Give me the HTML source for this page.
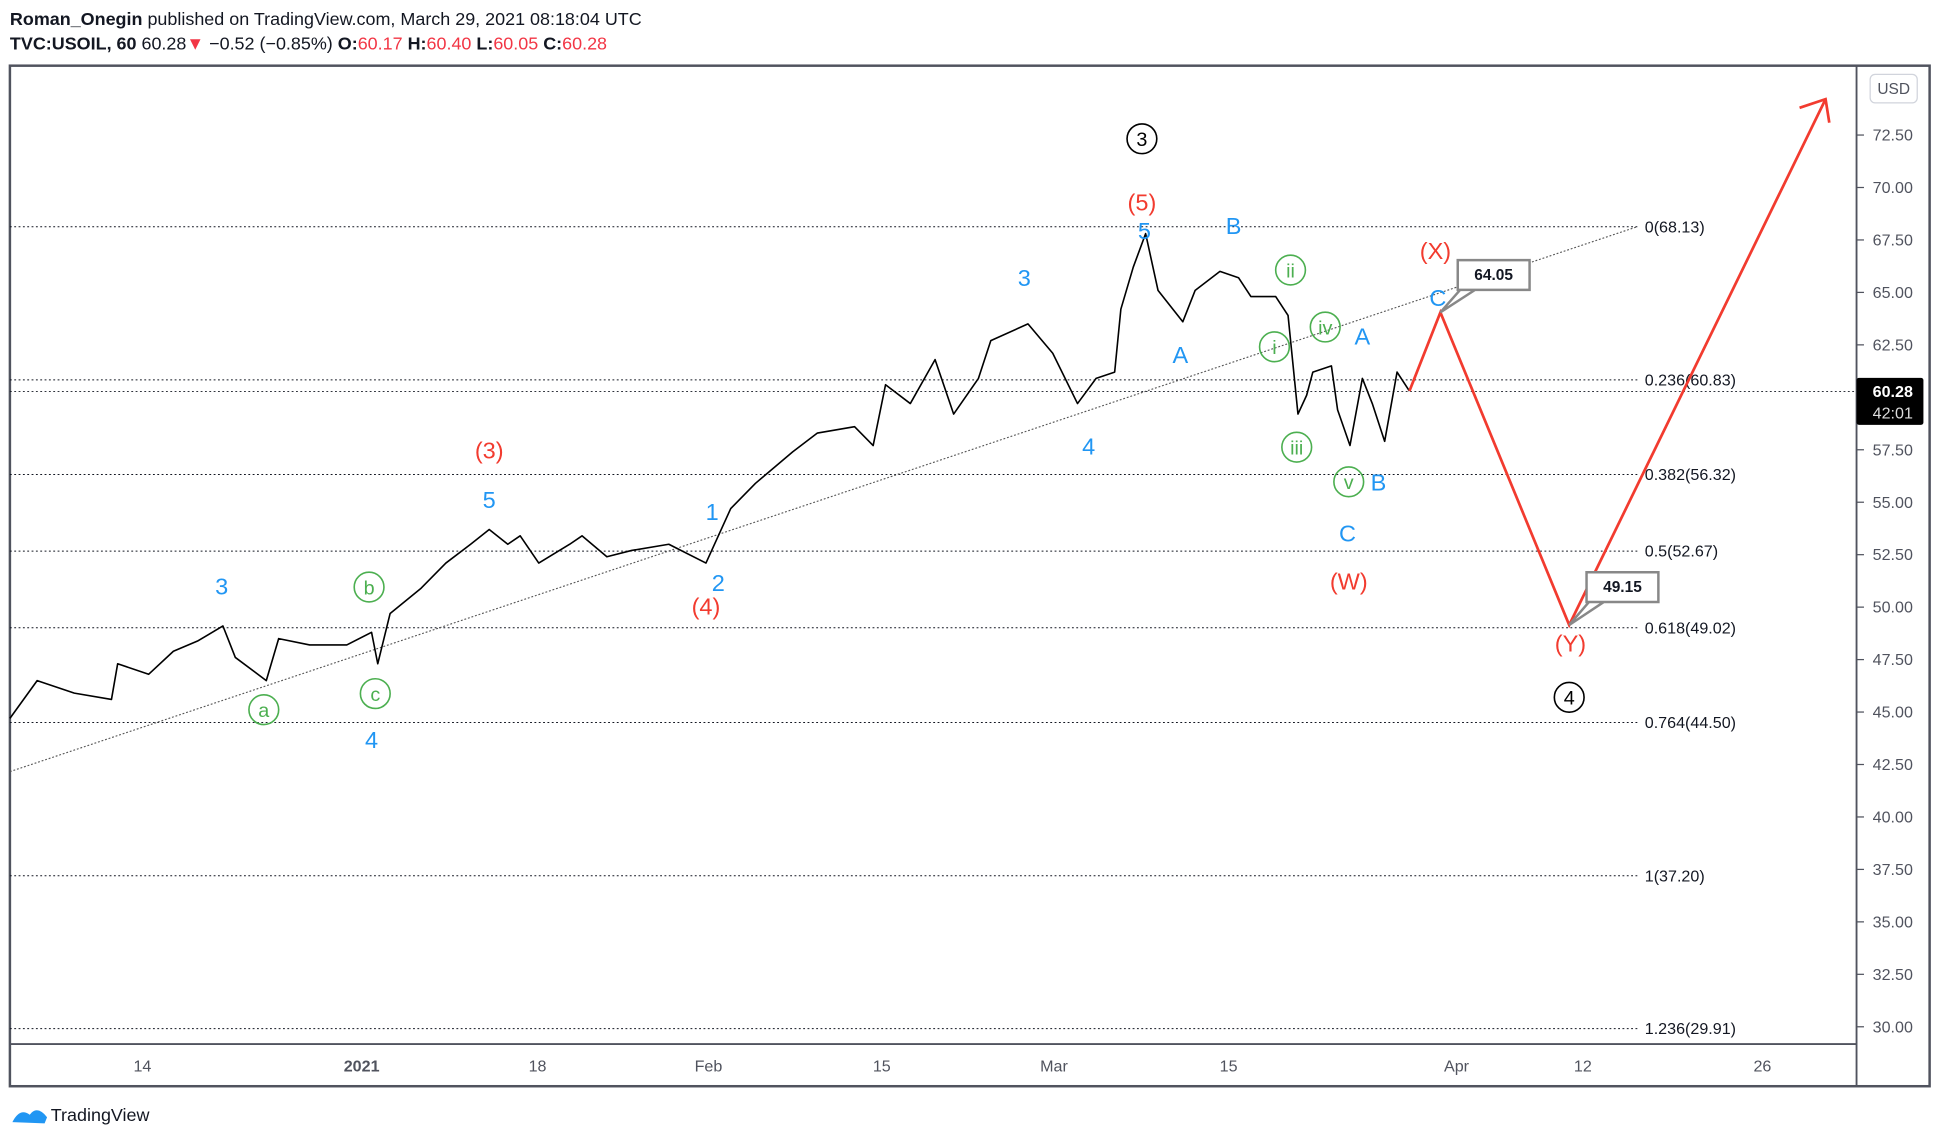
<!DOCTYPE html>
<html><head><meta charset="utf-8">
<style>
html,body{margin:0;padding:0;background:#fff;}
svg{display:block;font-family:"Liberation Sans",sans-serif;}
</style></head>
<body>
<svg id="chart" width="1942" height="1142" viewBox="0 0 1568 922" xmlns="http://www.w3.org/2000/svg">
  <text x="8" y="20" font-size="14.5" fill="#131722"><tspan font-weight="bold">Roman_Onegin</tspan> published on TradingView.com, March 29, 2021 08:18:04 UTC</text>
  <text x="8" y="40" font-size="14.5" fill="#131722"><tspan font-weight="bold">TVC:USOIL, 60</tspan> 60.28<tspan fill="#f23645">▼</tspan> −0.52 (−0.85%) <tspan font-weight="bold">O:</tspan><tspan fill="#f23645">60.17</tspan> <tspan font-weight="bold">H:</tspan><tspan fill="#f23645">60.40</tspan> <tspan font-weight="bold">L:</tspan><tspan fill="#f23645">60.05</tspan> <tspan font-weight="bold">C:</tspan><tspan fill="#f23645">60.28</tspan></text>
  <rect x="8" y="53" width="1550" height="824" fill="#fff" stroke="#50535e" stroke-width="2"/>
  <line x1="1499" y1="53" x2="1499" y2="877" stroke="#50535e" stroke-width="1.5"/>
  <line x1="8" y1="843" x2="1499" y2="843" stroke="#50535e" stroke-width="1.5"/>
  <g id="yaxis"></g><g id="xaxis"></g><g id="fib"></g><g id="price"></g><g id="ann"></g>
  <rect x="1510" y="60" width="38" height="23" rx="4" fill="#fff" stroke="#d1d4dc"/>
  <text x="1529" y="76" font-size="12.5" fill="#50535e" text-anchor="middle">USD</text>
  <g>
    <path d="M10 906 q6-12 14-6 q6-8 14 2 l-2 5 z" fill="#2196f3"/>
    <text x="41" y="905" font-size="14.5" fill="#131722">TradingView</text>
  </g>
</svg>
<script>
const priceTicks=[72.5,70,67.5,65,62.5,60,57.5,55,52.5,50,47.5,45,42.5,40,37.5,35,32.5,30];
const dateLabels=["14","2021","18","Feb","15","Mar","15","Apr","12","26"];
const dateIdx=[10.7,28.4,42.6,56.4,70.4,84.3,98.4,116.8,127,141.5];
const fibRatios=["0","0.236","0.382","0.5","0.618","0.764","1","1.236"];
const fibPrices=[68.13,60.83,56.32,52.67,49.02,44.50,37.20,29.91];
const seriesIdx=[0,2.2,5.2,8.2,8.7,11.2,13.2,15.2,17.2,18.2,20.7,21.7,24.2,27.2,29.2,29.7,30.7,33.2,35.2,37.2,38.7,40.2,41.2,42.7,45.2,46.2,48.2,50.2,53.2,56.2,58.2,60.2,63.2,65.2,68.2,69.7,70.7,72.7,74.7,76.2,78.2,79.2,82.2,84.2,86.2,87.7,89.2,89.7,90.7,91.7,92.7,94.7,95.7,97.7,99.2,100.2,102.2,103.2,104,104.7,105.2,106.7,107.2,108.2,109.2,110,111,112,113];
const seriesPrice=[44.7,46.5,45.9,45.6,47.3,46.8,47.9,48.4,49.1,47.6,46.5,48.5,48.2,48.2,48.8,47.3,49.7,50.9,52.1,53.0,53.7,53.0,53.4,52.1,53.0,53.4,52.4,52.7,53.0,52.1,54.7,55.9,57.4,58.3,58.6,57.7,60.6,59.7,61.8,59.2,60.9,62.7,63.5,62.1,59.7,60.9,61.2,64.2,66.2,67.8,65.1,63.6,65.1,66.0,65.7,64.8,64.8,63.9,59.2,60.1,61.2,61.5,59.4,57.7,60.9,59.7,57.9,61.2,60.3];
const lastPrice=60.28;
const projIdx=[113,115.5,125.9,146.6];
const projPrice=[60.3,64.05,49.15,72.5+(109-80)/16.94];

const NS="http://www.w3.org/2000/svg";
const y=p=>109+(72.5-p)*(720/42.5);
const x=i=>8+i*10;
function mk(tag,attrs,parent,txt){const e=document.createElementNS(NS,tag);for(const k in attrs)e.setAttribute(k,attrs[k]);if(txt!==undefined)e.textContent=txt;document.getElementById(parent).appendChild(e);return e;}

priceTicks.forEach(p=>{
  const t=mk('line',{x1:1499,x2:1505,y1:y(p),y2:y(p),stroke:'#50535e'},'yaxis');
  
  
  const l=mk('text',{x:1512,y:y(p)+4.5,'font-size':13,fill:'#50535e'},'yaxis',p.toFixed(2));
  
  
});
dateLabels.forEach((d,i)=>{
  const l=mk('text',{x:x(dateIdx[i]),y:865,'font-size':13,fill:'#50535e','text-anchor':'middle','font-weight':d==='2021'?'bold':'normal'},'xaxis',d);
  
  
});
fibPrices.forEach((p,i)=>{
  const ln=mk('line',{x1:8,x2:1322,y1:y(p),y2:y(p),stroke:'#131722','stroke-width':0.8,'stroke-dasharray':'1.5 2'},'fib');
  
  
  const t=mk('text',{x:1328,y:y(p)+4.5,'font-size':13,fill:'#131722'},'fib',fibRatios[i]+'('+p.toFixed(2)+')');
  
  
});
const tl=mk('line',{x1:8,y1:623,x2:1322,y2:183,stroke:'#555','stroke-width':0.9,'stroke-dasharray':'1.5 1.5'},'fib');


const cl=mk('line',{x1:8,x2:1499,y1:y(lastPrice),y2:y(lastPrice),stroke:'#131722','stroke-width':0.8,'stroke-dasharray':'1.5 2'},'fib');



let pts=seriesIdx.map((d,i)=>x(d).toFixed(1)+','+y(seriesPrice[i]).toFixed(1)).join(' ');
const pl=mk('polyline',{points:pts,fill:'none',stroke:'#000','stroke-width':1.3,'stroke-linejoin':'round'},'price');



const bx=mk('rect',{x:1499,y:y(lastPrice)-11,width:54,height:38,rx:2,fill:'#000'},'price');


const bt=mk('text',{x:1512,y:y(lastPrice)+4.5,'font-size':13,fill:'#fff','font-weight':'bold'},'price',lastPrice.toFixed(2));


const bt2=mk('text',{x:1512,y:y(lastPrice)+22,'font-size':13,fill:'#ddd'},'price','42:01');



let pp=projIdx.map((d,i)=>x(d).toFixed(1)+','+y(projPrice[i]).toFixed(1)).join(' ');
const pr=mk('polyline',{points:pp,fill:'none',stroke:'#f23b2f','stroke-width':2.2},'ann');


const ex=x(projIdx[3]),ey=y(projPrice[3]);
const ah=mk('polyline',{points:(ex-21)+','+(ey+7)+' '+ex+','+ey+' '+(ex+3)+','+(ey+19),fill:'none',stroke:'#f23b2f','stroke-width':2.2},'ann');



function callout(name,bx,by,px,py,val){
  const g=mk('path',{d:`M${bx} ${by} h58 v24 h-58 z M${bx+2} ${by+24} L${px} ${py} L${bx+14} ${by+24}`,fill:'#fff',stroke:'#888','stroke-width':2},'ann');
  
  
  const t=mk('text',{x:bx+29,y:by+16,'font-size':12.5,'font-weight':'bold',fill:'#131722','text-anchor':'middle'},'ann',val);
  
  
}
callout('target-high',1177,210,x(projIdx[1]),y(projPrice[1]),projPrice[1].toFixed(2));
callout('target-low',1281,462,x(projIdx[2]),y(projPrice[2]),projPrice[2].toFixed(2));

const B='#2196f3',R='#f23b2f',G='#4caf50',K='#000';
const labels=[
 ['3',179,480,B,0],['4',300,604,B,0],['5',395,410,B,0],['1',575,420,B,0],['2',580,477,B,0],
 ['3',827,231,B,0],['4',879,367,B,0],['5',924,193,B,0],['A',953,293,B,0],['B',996,189,B,0],
 ['A',1100,278,B,0],['B',1113,396,B,0],['C',1088,437,B,0],['C',1161,247,B,0],
 ['(3)',395,370,R,0],['(4)',570,496,R,0],['(5)',922,170,R,0],['(W)',1089,476,R,0],['(X)',1159,209,R,0],['(Y)',1268,526,R,0],
 ['a',213,573,G,1],['b',298,474,G,1],['c',303,560,G,1],['i',1029,280,G,1],['ii',1042,218,G,1],['iii',1047,361,G,1],['iv',1070,264,G,1],['v',1089,389,G,1],
 ['3',922,112,K,1],['4',1267,563,K,1]
];
labels.forEach(l=>{
  const [t,cx,cy,c,circ]=l;
  if(circ){
    const ci=mk('circle',{cx:cx,cy:cy,r:12,fill:'none',stroke:c,'stroke-width':1.3},'ann');
    
    
  }
  const tx=mk('text',{x:cx,y:cy+(circ?6:0),'font-size':circ?16:19,fill:c,'text-anchor':'middle'},'ann',t);
  
  
});
</script>
</body></html>
